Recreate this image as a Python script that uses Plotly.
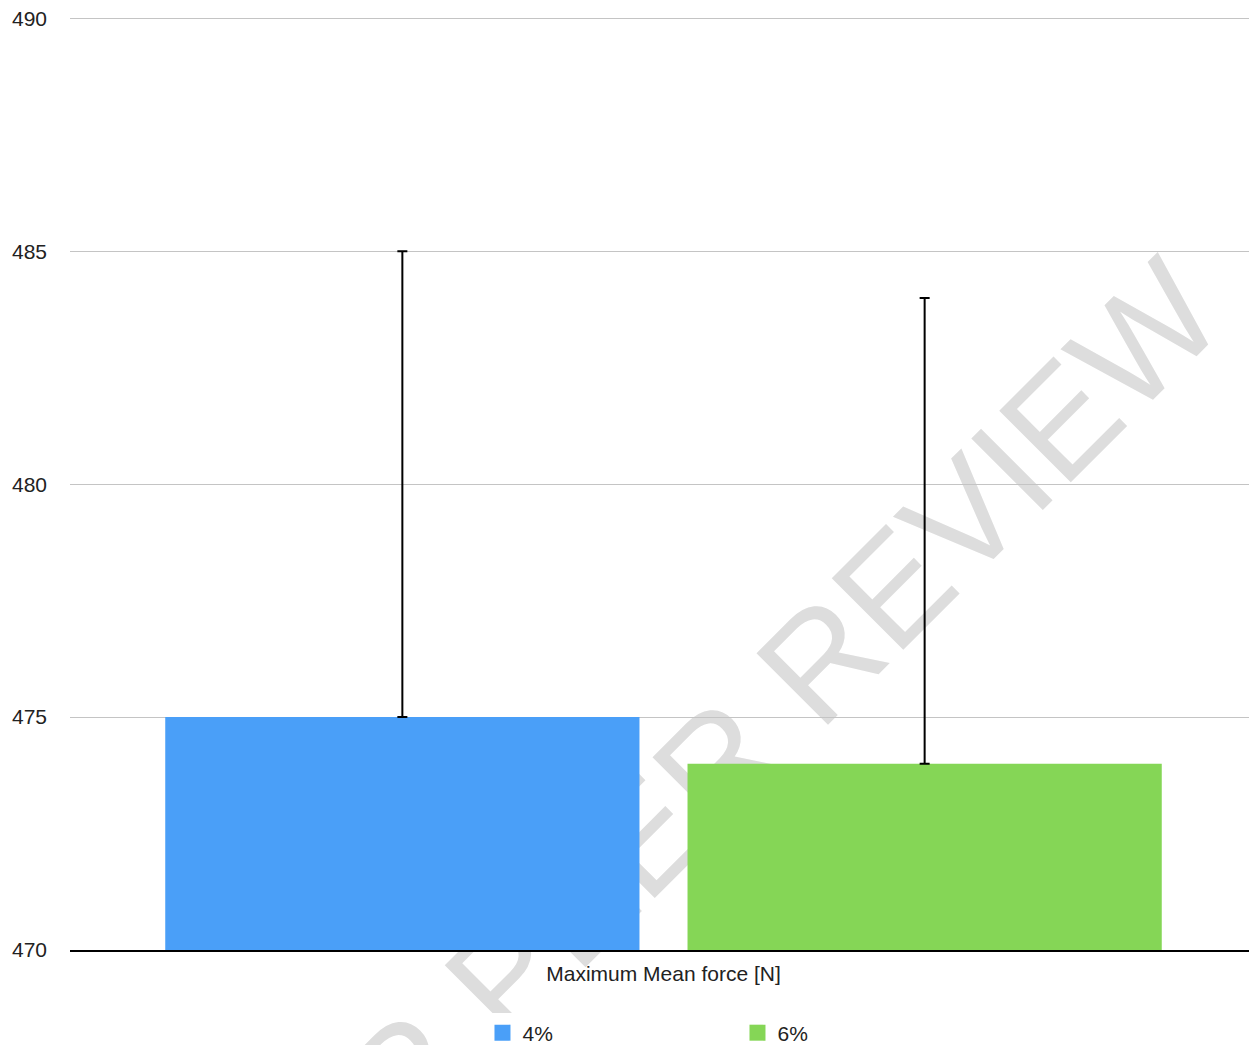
import plotly.graph_objects as go

categories = ["Maximum Mean force [N]"]
series_names = ["4%", "6%"]
series_values = [[475], [474]]
error_plus = [[10], [10]]
colors = ["#4A9FF8", "#85D656"]
y_ticks = [470, 475, 480, 485, 490]
watermark = "FOR PEER REVIEW"

FONT = "Liberation Sans, Arial, Helvetica, sans-serif"

fig = go.Figure()
for name, vals, err, col in zip(series_names, series_values, error_plus, colors):
    fig.add_trace(go.Bar(
        x=categories, y=vals, name=name, showlegend=False,
        marker=dict(color=col, line=dict(width=0)),
        error_y=dict(type="data", symmetric=False, array=err,
                     arrayminus=[0] * len(err), color="black",
                     thickness=2, width=5),
    ))
# legend proxies with larger square swatches
for name, col in zip(series_names, colors):
    fig.add_trace(go.Scatter(
        x=[None], y=[None], mode="markers", name=name,
        marker=dict(symbol="square", size=20, color=col),
    ))

fig.add_shape(
    type="rect", xref="paper", yref="paper",
    x0=0.529, x1=0.530, y0=0.2006, y1=0.2016,
    line=dict(width=0), fillcolor="rgba(0,0,0,0)", layer="below",
    label=dict(text=watermark, textangle=-45, textposition="middle center",
               font=dict(size=147, color="#dddddd", family=FONT)),
)

fig.update_layout(
    width=1249, height=1037,
    margin=dict(l=62, r=0, t=9, b=95, autoexpand=False),
    plot_bgcolor="white", paper_bgcolor="white",
    font=dict(family=FONT, size=21, color="#222222"),
    barmode="group", bargap=0.12, bargroupgap=0.092,
    legend=dict(orientation="h", x=0.3475, xanchor="left", y=-0.089,
                yanchor="middle", entrywidth=210, itemsizing="trace",
                font=dict(size=21)),
    xaxis=dict(showline=True, linecolor="black", linewidth=2,
               showgrid=False, ticks="", ticklabelstandoff=4,
               automargin=False),
    yaxis=dict(range=[470, 490.03], tickvals=y_ticks, showgrid=True,
               gridcolor="#c4c4c4", gridwidth=1, zeroline=False,
               showline=False, ticks="", ticklabelstandoff=22,
               ticklabeloverflow="allow", automargin=False),
)

fig.write_html("out.html")
